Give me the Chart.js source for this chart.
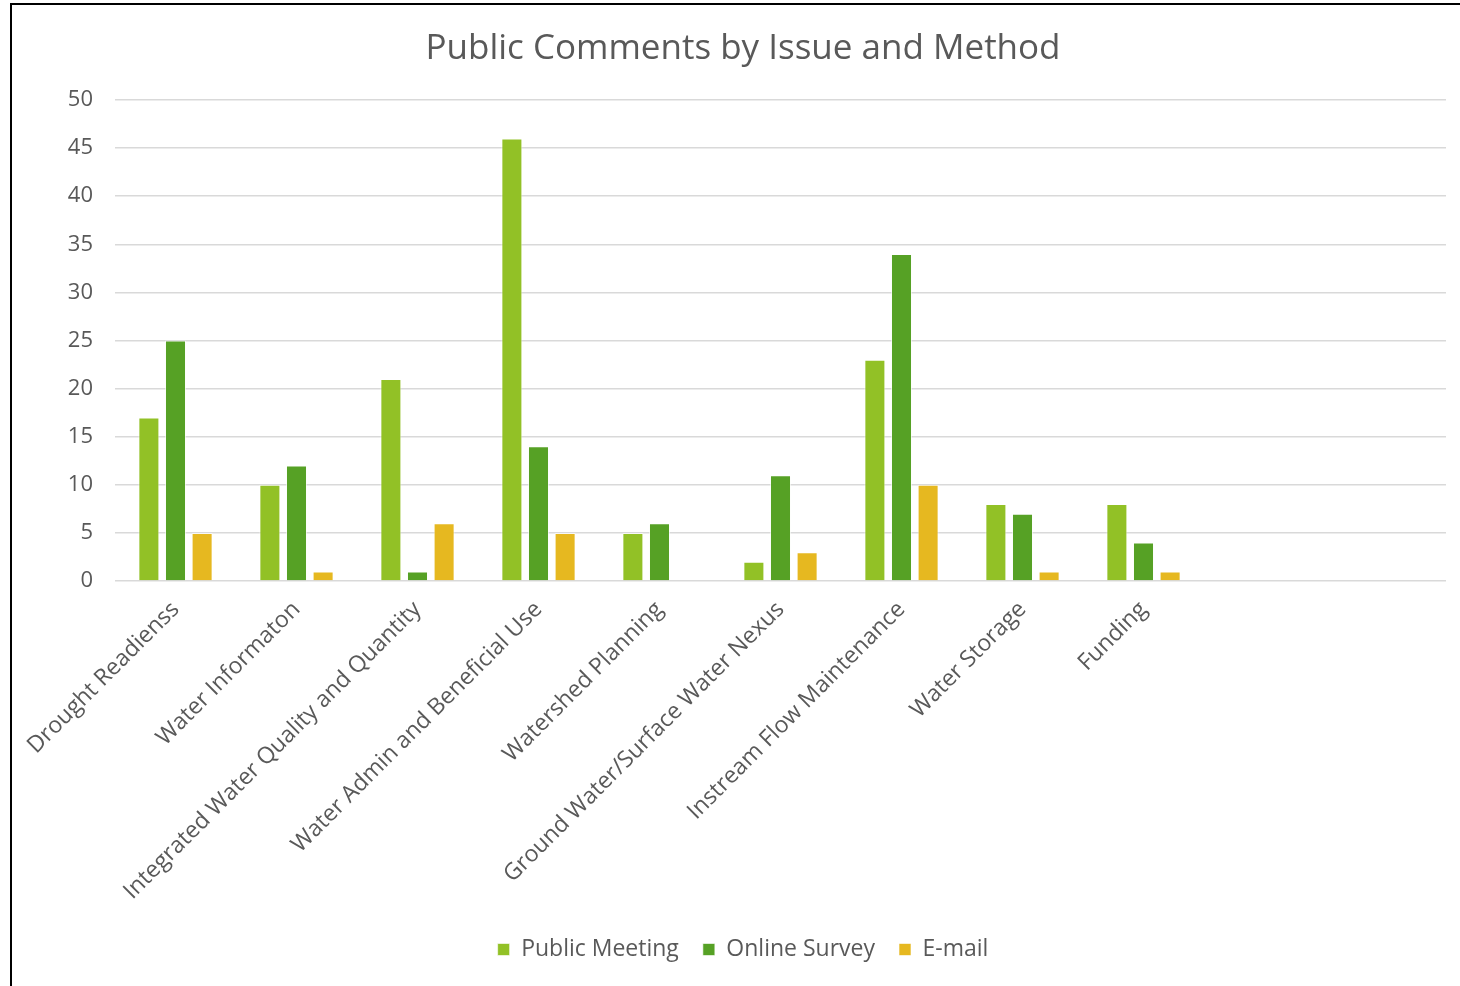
<!DOCTYPE html>
<html lang="en">
<head>
    <meta charset="UTF-8">
    <title>Public Comments by Issue and Method</title>
    <script src="https://cdn.jsdelivr.net/npm/chart.js"></script>
    <style>
        html, body {
            margin: 0;
            padding: 0;
            width: 1460px;
            height: 986px;
            overflow: hidden;
            background: #ffffff;
        }
        .frame {
            position: absolute;
            left: 10px;
            top: 3px;
            width: 1600px;
            height: 1200px;
            border: 2px solid #000000;
        }
        .chart-box {
            position: absolute;
            left: 0;
            top: 0;
            width: 1460px;
            height: 986px;
        }
    </style>
</head>
<body>
    <div class="frame"></div>
    <div class="chart-box">
        <canvas id="comments-chart"></canvas>
    </div>

    <script>
        // categories (last two slots are empty in the original sheet)
        const issues = [
            'Drought Readienss',
            'Water Informaton',
            'Integrated Water Quality and Quantity',
            'Water Admin and Beneficial Use',
            'Watershed Planning',
            'Ground Water/Surface Water Nexus',
            'Instream Flow Maintenance',
            'Water Storage',
            'Funding',
            '',
            ''
        ];

        const publicMeeting = [17, 10, 21, 46, 5, 2, 23, 8, 8, null, null];
        const onlineSurvey  = [25, 12, 1, 14, 6, 11, 34, 7, 4, null, null];
        const email         = [5, 1, 6, 5, null, 3, 10, 1, 1, null, null];

        const seriesNames = ['Public Meeting', 'Online Survey', 'E-mail'];

        const textColor = '#595959';
        const fontFamily = "'Open Sans', 'DejaVu Sans', sans-serif";

        document.addEventListener('DOMContentLoaded', () => {
            const ctx = document.getElementById('comments-chart').getContext('2d');

            const barStyle = (color) => ({
                backgroundColor: color,
                borderColor: 'rgba(255, 255, 255, 0.6)',
                borderWidth: 1,
                categoryPercentage: 0.66,
                barPercentage: 0.79
            });

            const data = {
                labels: issues,
                datasets: [
                    Object.assign({ label: seriesNames[0], data: publicMeeting }, barStyle('#92c126')),
                    Object.assign({ label: seriesNames[1], data: onlineSurvey }, barStyle('#56a125')),
                    Object.assign({ label: seriesNames[2], data: email }, barStyle('#e6b820'))
                ]
            };

            const options = {
                responsive: true,
                maintainAspectRatio: false,
                animation: false,
                layout: {
                    // wide left padding so title/legend centre on the (cropped) frame
                    padding: { left: 40, top: 4, right: 14, bottom: 15 }
                },
                plugins: {
                    title: {
                        display: true,
                        text: 'Public Comments by Issue and Method',
                        color: textColor,
                        font: { family: fontFamily, size: 35, weight: 'normal' },
                        padding: { top: 24, bottom: 30 }
                    },
                    legend: {
                        display: true,
                        position: 'bottom',
                        labels: {
                            color: textColor,
                            font: { family: fontFamily, size: 23 },
                            boxWidth: 12,
                            boxHeight: 12,
                            padding: 24
                        }
                    },
                    tooltip: { enabled: false }
                },
                scales: {
                    x: {
                        grid: { display: false, drawTicks: false },
                        border: { display: false },
                        ticks: {
                            color: textColor,
                            font: { family: fontFamily, size: 23 },
                            minRotation: 45,
                            maxRotation: 45,
                            autoSkip: false,
                            padding: 15
                        },
                        afterFit(scale) {
                            scale.height = 333;
                        }
                    },
                    y: {
                        min: 0,
                        max: 50,
                        grid: { color: '#d9d9d9', lineWidth: 1.5, drawTicks: false },
                        border: { display: false },
                        ticks: {
                            stepSize: 5,
                            color: textColor,
                            font: { family: fontFamily, size: 22 },
                            padding: 22
                        },
                        afterFit(scale) {
                            scale.width = 75;
                        }
                    }
                }
            };

            new Chart(ctx, {
                type: 'bar',
                data: data,
                options: options
            });
        });
    </script>
</body>
</html>
